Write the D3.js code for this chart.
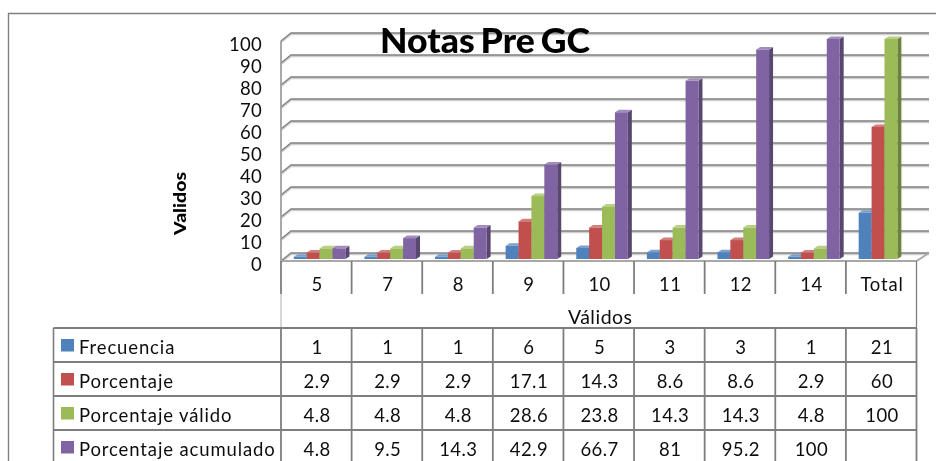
<!DOCTYPE html>
<html><head><meta charset="utf-8">
<script src="https://cdn.jsdelivr.net/npm/d3@7"></script>
<style>
html,body{margin:0;padding:0;background:#fff;overflow:hidden}
text{font-family:Lato,"Open Sans",sans-serif;fill:#111}
</style></head><body>
<svg id="c" width="936" height="461"></svg>
<script>
const categories=["5","7","8","9","10","11","12","14","Total"];
const seriesNames=["Frecuencia","Porcentaje","Porcentaje válido","Porcentaje acumulado"];
const frecuencia=[1,1,1,6,5,3,3,1,21];
const porcentaje=[2.9,2.9,2.9,17.1,14.3,8.6,8.6,2.9,60];
const porcentajeValido=[4.8,4.8,4.8,28.6,23.8,14.3,14.3,4.8,100];
const porcentajeAcumulado=[4.8,9.5,14.3,42.9,66.7,81,95.2,100,null];
const yTicks=[0,10,20,30,40,50,60,70,80,90,100];
const colors=["#4f81bd","#c0504d","#9bbb59","#8064a2"];
const sideColors=["#375a85","#863836","#6c833e","#594671"];
const topColors=["#7ba0cd","#d07f7c","#b8cf84","#a28cbd"];
const seriesValues=[frecuencia,porcentaje,porcentajeValido,porcentajeAcumulado];

const svg=d3.select("#c");
const defs=svg.append("defs");
defs.append("filter").attr("id","soft").attr("x","-5%").attr("y","-5%").attr("width","110%").attr("height","110%")
  .append("feGaussianBlur").attr("stdDeviation",0.4);
const root=svg.append("g").attr("filter","url(#soft)");

const W=936,H=461;
const left=281,right=916.5,depthX=10,depthY=8,backRight=929;
const x=d3.scaleBand().domain(categories).range([left,right]);
const yFront=d3.scaleLinear().domain([0,100]).range([261,41]);
const yBar=d3.scaleLinear().domain([0,100]).range([259,39]);
const xSeries=d3.scaleBand().domain(d3.range(4)).range([12.8,64.4]);
const lineGray="#848484";

root.append("path").attr("d",`M8.5,${H}V13.5H${W}`).attr("fill","none").attr("stroke","#808080").attr("stroke-width",1.4);

const wall=root.append("g");
yTicks.forEach(t=>{
  const yf=yFront(t), yb=yf-depthY;
  wall.append("path").attr("d",`M${left},${yf}L${left+depthX},${yb}H${backRight}`)
    .attr("fill","none").attr("stroke","#cfcfcf").attr("stroke-width",2.4).attr("transform","translate(0,1)");
  wall.append("path").attr("d",`M${left},${yf}L${left+depthX},${yb}H${backRight}`)
    .attr("fill","none").attr("stroke",lineGray).attr("stroke-width",1.5);
});
wall.append("path").attr("d",`M${left},${yFront(100)}V${yFront(0)}`).attr("stroke","#a0a0a0").attr("stroke-width",1.8).attr("fill","none");
wall.append("path").attr("d",`M${left},${yFront(0)}H${right}L${backRight},${yFront(0)-depthY}`).attr("stroke","#a8a8a8").attr("stroke-width",1.8).attr("fill","none");

const bw=xSeries.bandwidth(), dx=4, dy=2.6;
const groups=root.selectAll("g.cat").data(categories).join("g").attr("class","cat")
  .attr("transform",d=>`translate(${x(d)},0)`);
groups.each(function(cat,ci){
  const g=d3.select(this);
  seriesValues.forEach((vals,si)=>{
    const v=vals[ci];
    if(v==null) return;
    const x0=xSeries(si), y0=yBar(0), y1=yBar(v);
    g.append("path").attr("fill",sideColors[si])
      .attr("d",`M${x0+bw},${y1}l${dx},${-dy}V${y0-dy}l${-dx},${dy}Z`);
    g.append("path").attr("fill",topColors[si])
      .attr("d",`M${x0},${y1}l${dx},${-dy}h${bw}l${-dx},${dy}Z`);
    g.append("rect").attr("x",x0).attr("y",y1).attr("width",bw).attr("height",y0-y1).attr("fill",colors[si]);
  });
});

const yAxis=d3.axisLeft(yFront).tickValues(yTicks).tickSize(0).tickPadding(0);
const ax=root.append("g").attr("transform","translate(262,3.2)").call(yAxis);
ax.select(".domain").remove();
ax.selectAll("text").attr("font-size",18.5).attr("font-family",null).attr("letter-spacing",0.25).style("fill","#111");

root.append("text").attr("x",485).attr("y",53).attr("text-anchor","middle").attr("font-size",35).attr("font-weight",900)
  .attr("word-spacing",-2.5).attr("textLength",210).attr("lengthAdjust","spacingAndGlyphs").style("fill","#000").text("Notas Pre GC");
root.append("text").attr("transform","translate(186,203.5) rotate(-90)").attr("text-anchor","middle").attr("font-size",17)
  .attr("font-weight",900).attr("textLength",63).attr("lengthAdjust","spacingAndGlyphs").style("fill","#000").text("Validos");

const rowY=d3.scaleBand().domain(d3.range(4)).range([328,464]);
const table=root.append("g");
const tlines="#7e7e7e";
categories.forEach(c=>{
  table.append("line").attr("x1",x(c)).attr("x2",x(c)).attr("y1",261).attr("y2",294).attr("stroke",tlines).attr("stroke-width",1.8);
});
table.append("line").attr("x1",right).attr("x2",right).attr("y1",261).attr("y2",328).attr("stroke",tlines).attr("stroke-width",1.3);
table.append("line").attr("x1",left).attr("x2",left).attr("y1",294).attr("y2",328).attr("stroke","#b0b0b0").attr("stroke-width",1);
d3.range(4).forEach(r=>{
  table.append("line").attr("x1",53.5).attr("x2",right).attr("y1",rowY(r)).attr("y2",rowY(r)).attr("stroke",tlines).attr("stroke-width",1.8);
});
table.append("line").attr("x1",53.5).attr("x2",53.5).attr("y1",328).attr("y2",H).attr("stroke",tlines).attr("stroke-width",1.6);
categories.concat([null]).forEach(c=>{
  const xx=c==null?right:x(c);
  table.append("line").attr("x1",xx).attr("x2",xx).attr("y1",328).attr("y2",H).attr("stroke",tlines).attr("stroke-width",1.8);
});
const cx=c=>x(c)+x.bandwidth()/2+0.8;
categories.forEach(c=>{
  table.append("text").attr("x",cx(c)).attr("y",290.5).attr("text-anchor","middle").attr("font-size",18.5).attr("letter-spacing",c==="Total"?0.8:0.4).text(c);
});
table.append("text").attr("x",(left+right)/2+1.5).attr("y",323.5).attr("text-anchor","middle").attr("font-size",19.5).attr("letter-spacing",0.5).text("Válidos");
seriesNames.forEach((n,r)=>{
  const y=rowY(r);
  table.append("rect").attr("x",61).attr("y",y+11).attr("width",13).attr("height",12.5).attr("fill",colors[r]);
  table.append("text").attr("x",79).attr("y",y+25.5).attr("font-size",18.5).attr("letter-spacing",0.87).text(n);
  seriesValues[r].forEach((v,ci)=>{
    if(v==null) return;
    table.append("text").attr("x",cx(categories[ci])).attr("y",y+26).attr("text-anchor","middle").attr("font-size",18.5).attr("letter-spacing",0.4).text(v);
  });
});
</script>
</body></html>
